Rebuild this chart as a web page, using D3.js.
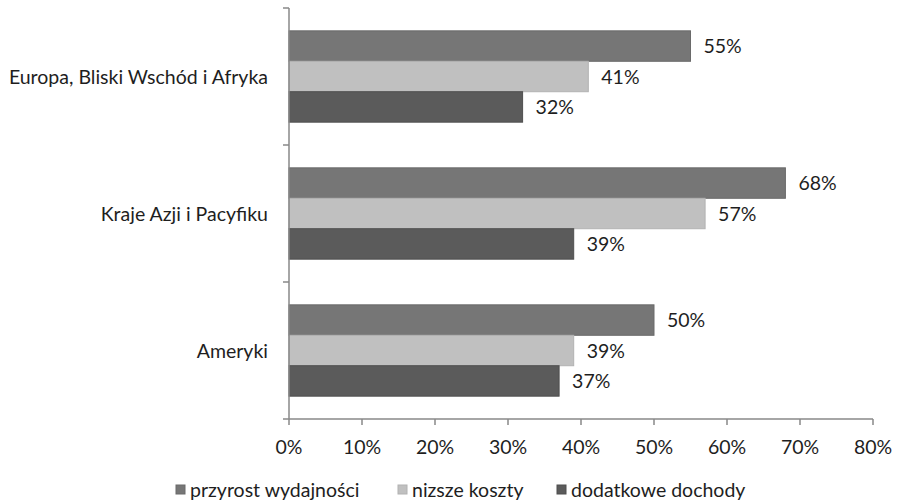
<!DOCTYPE html>
<html>
<head>
<meta charset="utf-8">
<script src="https://cdn.jsdelivr.net/npm/d3@7"></script>
<style>
  html, body { margin: 0; padding: 0; background: #fff; }
  svg { display: block; font-family: Lato, "Open Sans", sans-serif; }
</style>
</head>
<body>
<svg id="chart" width="897" height="504"></svg>
<script>
// Regions, top to bottom
const categories = ["Europa, Bliski Wschód i Afryka", "Kraje Azji i Pacyfiku", "Ameryki"];
// Series names
const seriesNames = ["przyrost wydajności", "nizsze koszty", "dodatkowe dochody"];
// Share of respondents per region (percent), one array per series
const przyrostWydajnosci = [55, 68, 50];
const nizszeKoszty = [41, 57, 39];
const dodatkoweDochody = [32, 39, 37];
const xTicks = [0, 10, 20, 30, 40, 50, 60, 70, 80];

const seriesValues = [przyrostWydajnosci, nizszeKoszty, dodatkoweDochody];
const fills = ["#767676", "#c0c0c0", "#5b5b5b"];
const strokes = ["#6a6a6a", "#b2b2b2", "#4f4f4f"];
const fontSize = 19.5;

const svg = d3.select("#chart");
const plotLeft = 289, plotRight = 873, plotTop = 8, plotBottom = 419;

const x = d3.scaleLinear().domain([0, 80]).range([plotLeft, plotRight]);
const y = d3.scaleBand().domain(categories).range([plotTop, plotBottom]).paddingInner(0).paddingOuter(0);
const inner = d3.scaleBand().domain(d3.range(seriesNames.length))
  .range([0, y.bandwidth()]).paddingInner(0).paddingOuter(0.75);

const rows = [];
categories.forEach((c, i) => {
  seriesValues.forEach((vals, s) => rows.push({ cat: c, s, v: vals[i] }));
});

// Bars
svg.append("g").selectAll("rect").data(rows).join("rect")
  .attr("x", x(0))
  .attr("y", d => y(d.cat) + inner(d.s))
  .attr("width", d => x(d.v) - x(0))
  .attr("height", inner.bandwidth())
  .attr("fill", d => fills[d.s])
  .attr("stroke", d => strokes[d.s])
  .attr("stroke-width", 1);

// Value labels
svg.append("g").selectAll("text").data(rows).join("text")
  .attr("x", d => x(d.v) + 13)
  .attr("y", d => y(d.cat) + inner(d.s) + inner.bandwidth() / 2)
  .attr("dy", "0.36em")
  .attr("font-size", fontSize)
  .attr("fill", "#1e1e1e")
  .text(d => d.v + "%");

// Category axis
const yAxis = svg.append("g").attr("transform", `translate(${plotLeft},0)`);
yAxis.append("line").attr("x1", 0).attr("x2", 0).attr("y1", plotTop).attr("y2", plotBottom)
  .attr("stroke", "#888").attr("stroke-width", 1.5);
const yTickPos = categories.map(c => y(c)).concat([plotBottom]);
yAxis.selectAll("line.t").data(yTickPos).join("line").attr("class", "t")
  .attr("x1", -6).attr("x2", 0).attr("y1", d => d).attr("y2", d => d)
  .attr("stroke", "#888").attr("stroke-width", 1.5);
yAxis.selectAll("text").data(categories).join("text")
  .attr("x", -21)
  .attr("y", d => y(d) + y.bandwidth() / 2)
  .attr("dy", "0.36em")
  .attr("text-anchor", "end")
  .attr("font-size", fontSize)
  .attr("fill", "#1e1e1e")
  .text(d => d);

// Value axis
const xAxis = svg.append("g").attr("transform", `translate(0,${plotBottom})`);
xAxis.append("line").attr("x1", plotLeft).attr("x2", plotRight).attr("y1", 0).attr("y2", 0)
  .attr("stroke", "#888").attr("stroke-width", 1.5);
xAxis.selectAll("line.t").data(xTicks).join("line").attr("class", "t")
  .attr("x1", d => x(d)).attr("x2", d => x(d)).attr("y1", 0).attr("y2", 6)
  .attr("stroke", "#888").attr("stroke-width", 1.5);
xAxis.selectAll("text").data(xTicks).join("text")
  .attr("x", d => x(d))
  .attr("y", 28)
  .attr("dy", "0.36em")
  .attr("text-anchor", "middle")
  .attr("font-size", fontSize)
  .attr("fill", "#1e1e1e")
  .text(d => d + "%");

// Legend
const legendX = [176, 398, 557];
const legend = svg.append("g").selectAll("g").data(seriesNames).join("g")
  .attr("transform", (d, i) => `translate(${legendX[i]},490)`);
legend.append("rect").attr("x", 0).attr("y", -5).attr("width", 9).attr("height", 9)
  .attr("fill", (d, i) => fills[i]).attr("stroke", (d, i) => strokes[i]);
legend.append("text").attr("x", 14).attr("y", 0).attr("dy", "0.36em")
  .attr("font-size", fontSize).attr("fill", "#1e1e1e").text(d => d);
</script>
</body>
</html>
